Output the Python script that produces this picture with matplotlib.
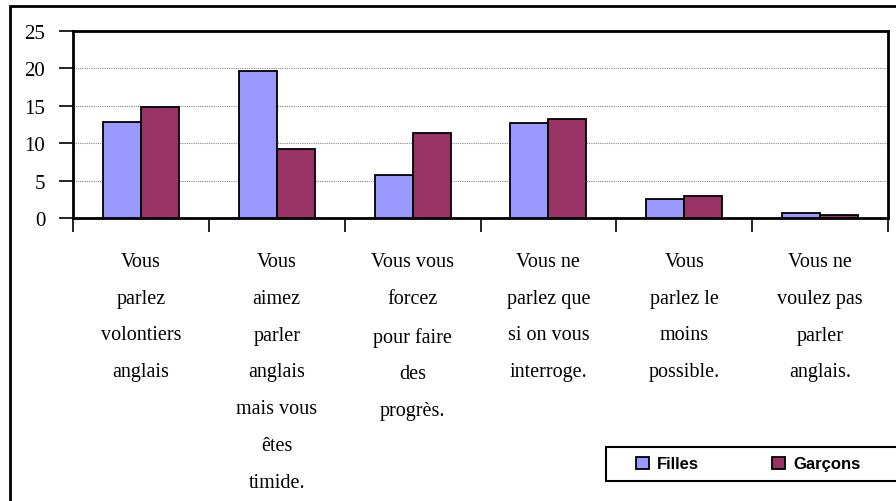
import matplotlib
matplotlib.use("Agg")
import matplotlib.pyplot as plt
from matplotlib.patches import Rectangle, Patch

categories = [
    "Vous\nparlez\nvolontiers\nanglais",
    "Vous\naimez\nparler\nanglais\nmais vous\nêtes\ntimide.",
    "Vous vous\nforcez\npour faire\ndes\nprogrès.",
    "Vous ne\nparlez que\nsi on vous\ninterroge.",
    "Vous\nparlez le\nmoins\npossible.",
    "Vous ne\nvoulez pas\nparler\nanglais.",
]
filles = [12.9, 19.7, 5.8, 12.7, 2.5, 0.7]
garcons = [14.8, 9.2, 11.3, 13.2, 3.0, 0.4]
yticks = [0, 5, 10, 15, 20, 25]
series_names = ["Filles", "Garçons"]
colors = ["#9999FF", "#993366"]

W, H = 896, 502
fig = plt.figure(figsize=(W / 100, H / 100), dpi=100)
fig.patch.set_facecolor("white")

# outer chart frame
fig.add_artist(Rectangle((10 / W, -0.05), 1.0, 1 - 7 / H + 0.05, transform=fig.transFigure,
                         fill=False, edgecolor="black", linewidth=2, clip_on=False))

ax = fig.add_axes([73 / W, 1 - 219 / H, (888 - 73) / W, (219 - 32) / H])
x = list(range(len(categories)))
bw = 0.28
ax.bar([i - bw / 2 for i in x], filles, width=bw, color=colors[0], edgecolor="black", linewidth=1.3, zorder=3)
ax.bar([i + bw / 2 for i in x], garcons, width=bw, color=colors[1], edgecolor="black", linewidth=1.3, zorder=3)

ax.set_xlim(-0.5, len(categories) - 0.5)
ax.set_ylim(0, 25)
ax.set_yticks(yticks)
ax.set_yticklabels([str(v) for v in yticks], fontfamily="Liberation Serif", fontsize=15)
ax.tick_params(axis="y", direction="out", length=10, width=1.2, pad=10)
ax.yaxis.grid(True, color="#888888", linestyle=(0, (1, 1)), linewidth=0.8, zorder=0)

ax.set_xticks([i - 0.5 for i in range(len(categories) + 1)])
ax.set_xticklabels([])
ax.tick_params(axis="x", direction="out", length=10, width=1.2)

for i, lab in enumerate(categories):
    ax.text(i, -4.5, lab, ha="center", va="top", fontfamily="Liberation Serif",
            fontsize=14.5, linespacing=2.28, transform=ax.transData, clip_on=False)

for s in ax.spines.values():
    s.set_color("black")
    s.set_linewidth(2)

# legend box
fig.add_artist(Rectangle((606 / W, 1 - 482 / H), 300 / W, 34 / H, transform=fig.transFigure,
                         fill=True, facecolor="white", edgecolor="black", linewidth=1.5, clip_on=False))
handles = [Patch(facecolor=colors[0], edgecolor="black", linewidth=1.3),
           Patch(facecolor=colors[1], edgecolor="black", linewidth=1.3)]
leg = fig.legend(handles, series_names, loc="center left",
                 bbox_to_anchor=(636 / W, 1 - 465 / H),
                 ncol=2, frameon=False, handlelength=0.75, handleheight=0.75,
                 handletextpad=0.5, columnspacing=4.4, borderpad=0, borderaxespad=0,
                 prop={"family": "Liberation Sans", "weight": "bold", "size": 12})

fig.savefig("out.png", dpi=100)
